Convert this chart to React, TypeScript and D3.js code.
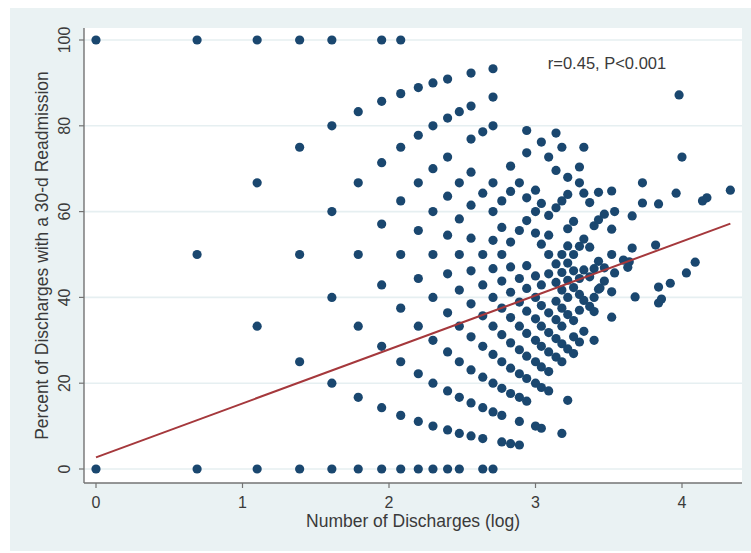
import React from 'react';
import * as d3 from 'd3';

// log(number of discharges) for each column of hospitals with the same volume
const colX = [0, 0.69, 1.1, 1.39, 1.61, 1.79, 1.95, 2.08, 2.2, 2.3, 2.4, 2.48, 2.56, 2.64, 2.71,
  2.77, 2.83, 2.89, 2.94, 3.0, 3.04, 3.09, 3.14, 3.18, 3.22, 3.26, 3.3, 3.33, 3.37, 3.4, 3.43, 3.47];

// percent readmitted
const colPct = [
  [100, 0],
  [100, 50, 0],
  [100, 66.7, 33.3, 0],
  [100, 75, 50, 25, 0],
  [100, 80, 60, 40, 20, 0],
  [83.3, 66.7, 50, 33.3, 16.7, 0],
  [100, 85.7, 71.4, 57.1, 42.9, 28.6, 14.3, 0],
  [100, 87.5, 75, 62.5, 50, 37.5, 25, 12.5, 0],
  [88.9, 77.8, 66.7, 55.6, 44.4, 33.3, 22.2, 11.1, 0],
  [90, 80, 70, 60, 50, 40, 30, 20, 10, 0],
  [90.9, 81.8, 72.7, 63.6, 54.5, 45.5, 36.4, 27.3, 18.2, 9.1, 0],
  [83.3, 66.7, 58.3, 50, 41.7, 33.3, 25, 16.7, 8.3, 0],
  [92.3, 84.6, 76.9, 69.2, 61.5, 53.8, 46.2, 38.5, 30.8, 23.1, 15.4, 7.7],
  [78.6, 64.3, 50, 42.9, 35.7, 28.6, 21.4, 14.3, 7.1, 0],
  [93.3, 86.7, 80, 66.7, 60, 53.3, 46.7, 40, 33.3, 26.7, 20, 13.3, 0],
  [62.5, 56.3, 50, 43.8, 37.5, 31.3, 25, 18.8, 12.5, 6.3],
  [70.6, 64.7, 52.9, 47.1, 41.2, 35.3, 29.4, 23.5, 17.6, 5.9],
  [66.7, 55.6, 44.4, 38.9, 33.3, 27.8, 22.2, 16.7, 11.1, 5.6],
  [78.9, 73.7, 63.2, 57.9, 47.4, 42.1, 36.8, 31.6, 26.3, 21.1, 15.8],
  [65, 60, 55, 45, 40, 35, 30, 25, 20, 10],
  [76.2, 61.9, 52.4, 42.9, 38.1, 33.3, 28.6, 23.8, 19, 9.5],
  [72.7, 59.1, 54.5, 50, 45.5, 36.4, 31.8, 27.3, 22.7, 18.2],
  [78.3, 69.6, 60.9, 47.8, 43.5, 39.1, 34.8, 30.4, 26.1],
  [75, 62.5, 50, 45.8, 41.7, 37.5, 33.3, 29.2, 25, 8.3],
  [68, 64, 56, 52, 48, 44, 40, 36, 28, 16],
  [57.7, 50, 46.2, 42.3, 34.6, 30.8, 26.9],
  [70.4, 66.7, 51.9, 44.4, 40.7, 37, 29.6],
  [75, 64.3, 53.6, 46.4, 39.3, 32.1],
  [62.1, 51.7, 44.8, 37.9],
  [56.7, 46.7, 40, 36.7, 30],
  [64.5, 58.1, 48.4, 41.9],
  [59.4, 46.9, 43.8],
];

// the scattered large-volume hospitals on the right
const extraX = [3.98, 4.0, 3.73, 3.96, 4.33, 3.73, 3.84, 4.14, 4.17, 3.66, 3.66, 3.82, 3.6, 3.64,
  3.63, 4.09, 4.03, 3.84, 3.92, 3.84, 3.86, 3.68, 3.52, 3.54, 3.52, 3.52, 3.54, 3.52, 3.44, 3.52];
const extraPct = [87.2, 72.7, 66.7, 64.3, 65, 62, 61.8, 62.5, 63.2, 59, 51.5, 52.2, 48.7, 48.3,
  47, 48.2, 45.7, 42.4, 43.3, 38.7, 39.6, 40.1, 64.8, 60, 55.9, 50, 45.7, 41.3, 42.2, 35.4];

const fitX = [0, 4.33];
const fitY = [2.7, 57.2];

const xTicks = [0, 1, 2, 3, 4];
const yTicks = [0, 20, 40, 60, 80, 100];

const W = 751;
const H = 553;
const plot = { left: 84, top: 28, right: 742, bottom: 483 };
const font = '"Liberation Sans", Arial, sans-serif';

export default function App() {
  const x = d3.scaleLinear().domain([0, 4]).range([96, 682]);
  const y = d3.scaleLinear().domain([0, 100]).range([469, 40]);

  const points: [number, number][] = [];
  colX.forEach((cx, i) => colPct[i].forEach(p => points.push([cx, p])));
  extraX.forEach((ex, i) => points.push([ex, extraPct[i]]));

  const fitLine = d3.line<number>().x(i => x(fitX[i])).y(i => y(fitY[i]))([0, 1]);

  return (
    <svg width={W} height={H} style={{ position: 'absolute', left: 0, top: 0, display: 'block' }}>
      <rect x={0} y={0} width={W} height={H} fill="#ffffff" />
      <rect x={10} y={8} width={W - 10} height={543} fill="#eaf2f3" />
      <rect x={plot.left} y={plot.top} width={plot.right - plot.left} height={plot.bottom - plot.top} fill="#ffffff" />

      {/* gridlines */}
      {yTicks.map(t => (
        <line key={'g' + t} x1={plot.left} x2={plot.right} y1={y(t)} y2={y(t)} stroke="#e6eff1" strokeWidth={1.6} />
      ))}

      {/* axes */}
      <line x1={plot.left} x2={plot.left} y1={plot.top} y2={plot.bottom} stroke="#737373" strokeWidth={1.4} />
      <line x1={plot.left} x2={plot.right} y1={plot.bottom} y2={plot.bottom} stroke="#737373" strokeWidth={1.4} />

      {yTicks.map(t => (
        <g key={'y' + t}>
          <line x1={plot.left - 5} x2={plot.left} y1={y(t)} y2={y(t)} stroke="#737373" strokeWidth={1.2} />
          <text
            transform={`translate(70,${y(t)}) rotate(-90)`}
            textAnchor="middle"
            fontFamily={font}
            fontSize={16}
            fill="#3a3a3a"
          >
            {t}
          </text>
        </g>
      ))}

      {xTicks.map(t => (
        <g key={'x' + t}>
          <line x1={x(t)} x2={x(t)} y1={plot.bottom} y2={plot.bottom + 5} stroke="#737373" strokeWidth={1.2} />
          <text x={x(t)} y={508} textAnchor="middle" fontFamily={font} fontSize={16} fill="#3a3a3a">
            {t}
          </text>
        </g>
      ))}

      <text x={(plot.left + plot.right) / 2 + 0} y={527} textAnchor="middle" fontFamily={font} fontSize={17.5} fill="#3a3a3a">
        Number of Discharges (log)
      </text>
      <text
        transform={`translate(48,${(plot.top + plot.bottom) / 2}) rotate(-90)`}
        textAnchor="middle"
        fontFamily={font}
        fontSize={17.5}
        fill="#3a3a3a"
      >
        Percent of Discharges with a 30-d Readmission
      </text>

      {/* dots */}
      {points.map(([px, py], i) => (
        <circle key={i} cx={x(px)} cy={y(py)} r={4.6} fill="#1a476f" />
      ))}

      {/* linear fit */}
      <path d={fitLine ?? ''} fill="none" stroke="#a5383c" strokeWidth={2} />

      <text x={607} y={69} textAnchor="middle" fontFamily={font} fontSize={16.5} fill="#3a3a3a">
        r=0.45, P&lt;0.001
      </text>
    </svg>
  );
}
